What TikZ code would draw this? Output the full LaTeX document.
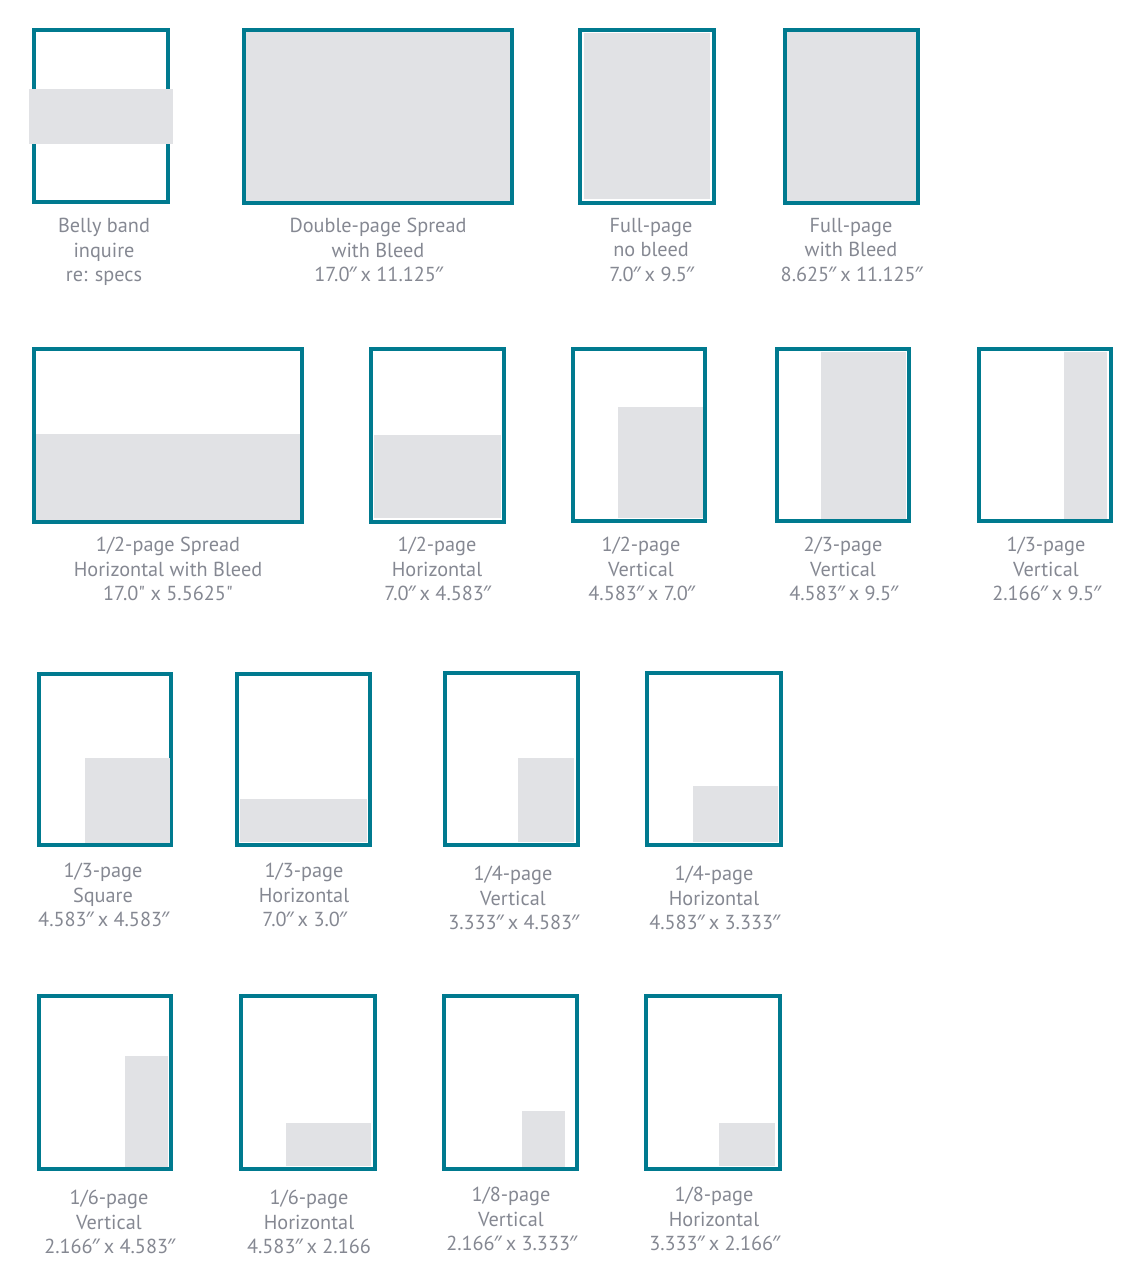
\documentclass[tikz,border=0pt]{standalone}
\usepackage{fontspec}
\setmainfont{PT Sans}
\newfontfamily\primefont{Noto Sans}
\newfontfamily\rawfont{PT Sans}
\newcommand\inch{\kern-0.8pt{\primefont ″}\kern-1.2pt\relax}
\newcommand\sq{{\rawfont"}}
\definecolor{frameblue}{HTML}{007A8F}
\definecolor{adgray}{HTML}{E1E2E5}
\definecolor{lblgray}{HTML}{858892}
\begin{document}
\begin{tikzpicture}[x=0.75pt,y=-0.75pt,
  frm/.style={draw=frameblue,line width=3pt},
  ad/.style={fill=adgray},
  lbl/.style={text=lblgray,font=\fontsize{15.2}{18.4}\selectfont,align=center,anchor=north,inner sep=0pt}]
\useasboundingbox (0,0) rectangle (1138,1262);
% Row 1
\draw[frm] (34,30) rectangle (168,202);
\fill[ad] (29,89) rectangle (173,144);
\fill[ad] (242,28) rectangle (514,205);
\draw[frm] (244,30) rectangle (512,203);
\draw[frm] (580,30) rectangle (714,203);
\fill[ad] (584,33) rectangle (710,199);
\fill[ad] (783,28) rectangle (920,205);
\draw[frm] (785,30) rectangle (918,203);
\node[lbl] (l1) at (104,218) {Belly band\\inquire\\re: specs};
\node[lbl] (l2) at (378,218) {Double-page Spread\\with Bleed\\17.0\inch{} x 11.125\inch};
\node[lbl] (l3) at (651,218) {Full-page\\no bleed\\7.0\inch{} x 9.5\inch};
\node[lbl] (l4) at (851,218) {Full-page\\with Bleed\\8.625\inch{} x 11.125\inch};
% Row 2
\fill[ad] (32,434) rectangle (304,524);
\draw[frm] (34,349) rectangle (302,522);
\draw[frm] (371,349) rectangle (504,522);
\fill[ad] (374,435) rectangle (501,518);
\draw[frm] (573,349) rectangle (705,521);
\fill[ad] (618,407) rectangle (703,518);
\draw[frm] (777,349) rectangle (909,521);
\fill[ad] (821,352) rectangle (906,519);
\draw[frm] (979,349) rectangle (1111,521);
\fill[ad] (1064,352) rectangle (1107,519);
\node[lbl] (l5) at (168,537) {1/2-page Spread\\Horizontal with Bleed\\17.0\sq{} x 5.5625\sq};
\node[lbl] (l6) at (437,537) {1/2-page\\Horizontal\\7.0\inch{} x 4.583\inch};
\node[lbl] (l7) at (641,537) {1/2-page\\Vertical\\4.583\inch{} x 7.0\inch};
\node[lbl] (l8) at (843,537) {2/3-page\\Vertical\\4.583\inch{} x 9.5\inch};
\node[lbl] (l9) at (1046,537) {1/3-page\\Vertical\\2.166\inch{} x 9.5\inch};
% Row 3
\draw[frm] (39,674) rectangle (171,845);
\fill[ad] (85,758) rectangle (170,843);
\draw[frm] (237,674) rectangle (370,845);
\fill[ad] (240,799) rectangle (367,842);
\draw[frm] (445,673) rectangle (578,845);
\fill[ad] (518,758) rectangle (574,842);
\draw[frm] (647,673) rectangle (781,845);
\fill[ad] (693,786) rectangle (778,842);
\node[lbl] (l10) at (103,863) {1/3-page\\Square\\4.583\inch{} x 4.583\inch};
\node[lbl] (l11) at (304,863) {1/3-page\\Horizontal\\7.0\inch{} x 3.0\inch};
\node[lbl] (l12) at (513,866) {1/4-page\\Vertical\\3.333\inch{} x 4.583\inch};
\node[lbl] (l13) at (714,866) {1/4-page\\Horizontal\\4.583\inch{} x 3.333\inch};
% Row 4
\draw[frm] (39,996) rectangle (171,1169);
\fill[ad] (125,1056) rectangle (168,1167);
\draw[frm] (241,996) rectangle (375,1169);
\fill[ad] (286,1123) rectangle (371,1166);
\draw[frm] (444,996) rectangle (577,1169);
\fill[ad] (522,1111) rectangle (565,1167);
\draw[frm] (646,996) rectangle (780,1169);
\fill[ad] (719,1123) rectangle (775,1166);
\node[lbl] (l14) at (109,1190) {1/6-page\\Vertical\\2.166\inch{} x 4.583\inch};
\node[lbl] (l15) at (309,1190) {1/6-page\\Horizontal\\4.583\inch{} x 2.166};
\node[lbl] (l16) at (511,1187) {1/8-page\\Vertical\\2.166\inch{} x 3.333\inch};
\node[lbl] (l17) at (714,1187) {1/8-page\\Horizontal\\3.333\inch{} x 2.166\inch};
\end{tikzpicture}
\end{document}
